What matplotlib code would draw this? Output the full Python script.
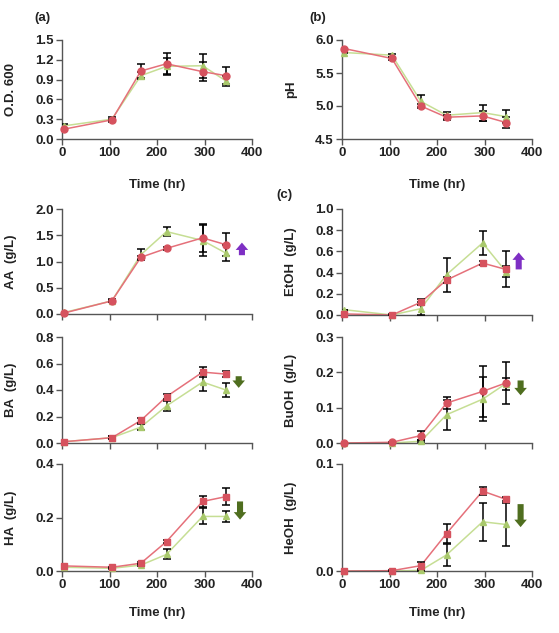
import matplotlib
matplotlib.use("Agg")
import matplotlib.pyplot as plt
from matplotlib.patches import FancyArrow

plt.rcParams['font.family'] = ['Liberation Sans', 'DejaVu Sans']
plt.rcParams['font.weight'] = 'bold'

# ---------------- data ----------------
time_hr = [5, 105, 166, 220, 296, 345]

od_red = [0.15, 0.29, 1.03, 1.14, 1.02, 0.96]
od_red_err = [0.02, 0.02, 0.11, 0.17, 0.14, 0.13]
od_green = [0.20, 0.30, 0.96, 1.10, 1.11, 0.88]
od_green_err = [0.03, 0.04, 0.05, 0.12, 0.18, 0.07]

ph_red = [5.87, 5.72, 5.00, 4.83, 4.85, 4.75]
ph_red_err = [0.01, 0.02, 0.03, 0.04, 0.07, 0.08]
ph_green = [5.81, 5.77, 5.07, 4.86, 4.90, 4.84]
ph_green_err = [0.01, 0.02, 0.09, 0.05, 0.12, 0.10]

aa_red = [0.02, 0.25, 1.08, 1.25, 1.45, 1.32]
aa_red_err = [0.01, 0.02, 0.03, 0.03, 0.27, 0.22]
aa_green = [0.03, 0.25, 1.13, 1.57, 1.40, 1.16]
aa_green_err = [0.01, 0.03, 0.10, 0.09, 0.30, 0.15]

etoh_red = [0.01, 0.00, 0.12, 0.33, 0.49, 0.43]
etoh_red_err = [0.00, 0.00, 0.03, 0.03, 0.02, 0.17]
etoh_green = [0.05, 0.00, 0.06, 0.38, 0.68, 0.41]
etoh_green_err = [0.00, 0.01, 0.06, 0.16, 0.11, 0.05]

ba_red = [0.01, 0.04, 0.17, 0.35, 0.535, 0.52]
ba_red_err = [0.00, 0.01, 0.02, 0.02, 0.035, 0.02]
ba_green = [0.01, 0.04, 0.12, 0.28, 0.46, 0.40]
ba_green_err = [0.00, 0.01, 0.02, 0.04, 0.07, 0.05]

buoh_red = [0.0, 0.002, 0.021, 0.113, 0.146, 0.170]
buoh_red_err = [0.0, 0.001, 0.012, 0.017, 0.073, 0.060]
buoh_green = [0.0, 0.0, 0.005, 0.080, 0.124, 0.168]
buoh_green_err = [0.0, 0.0, 0.003, 0.043, 0.062, 0.017]

ha_red = [0.019, 0.014, 0.029, 0.110, 0.260, 0.278]
ha_red_err = [0.002, 0.002, 0.003, 0.005, 0.020, 0.033]
ha_green = [0.014, 0.010, 0.022, 0.062, 0.204, 0.204]
ha_green_err = [0.002, 0.002, 0.003, 0.019, 0.030, 0.022]

heoh_red = [0.0, 0.0003, 0.005, 0.035, 0.0747, 0.067]
heoh_red_err = [0.0, 0.0002, 0.003, 0.009, 0.004, 0.002]
heoh_green = [0.0, 0.0, 0.0006, 0.015, 0.046, 0.0435]
heoh_green_err = [0.0, 0.0, 0.0005, 0.010, 0.018, 0.020]

x_ticks = [0, 100, 200, 300, 400]

# ---------------- style ----------------
RED = '#d6525e'
RED_LINE = '#e5707a'
GREEN = '#a9c96c'
GREEN_LINE = '#c6de94'
PURPLE = '#7e2fc4'
DKGREEN = '#4f6e1f'
SPINE = '#555555'
TXT = '#222222'

fig = plt.figure(figsize=(5.59, 6.33), dpi=100)
W, H = 559, 633


def add_ax(left_px, top_px, right_px, bottom_px):
    return fig.add_axes([left_px / W, 1 - bottom_px / H,
                         (right_px - left_px) / W, (bottom_px - top_px) / H])


def style(ax, ylim, yticks, yfmt, ylabel, show_xlabels, xlabel_y=None):
    ax.set_xlim(0, 400)
    ax.set_ylim(*ylim)
    ax.set_yticks(yticks)
    ax.set_yticklabels([yfmt.format(v) for v in yticks])
    ax.set_xticks(x_ticks)
    for s in ['top', 'right']:
        ax.spines[s].set_visible(False)
    for s in ['left', 'bottom']:
        ax.spines[s].set_color(SPINE)
        ax.spines[s].set_linewidth(1.0)
    ax.tick_params(axis='both', direction='out', length=4, width=1.0,
                   color=SPINE, labelsize=9.5, labelcolor=TXT, pad=2)
    if show_xlabels:
        ax.set_xlabel('Time (hr)', fontsize=9.5, fontweight='bold', color=TXT)
        ax.xaxis.set_label_coords(0.5, xlabel_y)
    else:
        ax.set_xticklabels([])
    ax.set_ylabel(ylabel, fontsize=9.5, fontweight='bold', color=TXT)
    ax.yaxis.set_label_coords(-0.237, 0.5)


def series(ax, y, yerr, color, lcolor, marker, ms):
    ax.plot(time_hr, y, color=lcolor, lw=1.1, zorder=2)
    ax.errorbar(time_hr, y, yerr=yerr, fmt='none', ecolor='black',
                elinewidth=1.1, capsize=2.8, capthick=1.1, zorder=3)
    ax.plot(time_hr, y, linestyle='none', marker=marker, ms=ms,
            color=color, mec=color, zorder=4, clip_on=False)


def arrow(ax, xc, y_tail, y_head, color):
    ax.add_patch(FancyArrow(xc, y_tail, 0, y_head - y_tail, width=0.032,
                            head_width=0.066, head_length=0.07,
                            length_includes_head=True, color=color,
                            transform=ax.transAxes, clip_on=False, lw=0))


L0, L1 = 62, 252
R0, R1 = 342, 532

# row 1
ax = add_ax(L0, 40, L1, 139)
series(ax, od_green, od_green_err, GREEN, GREEN_LINE, '^', 4.5)
series(ax, od_red, od_red_err, RED, RED_LINE, 'o', 5)
style(ax, (0, 1.5), [0, 0.3, 0.6, 0.9, 1.2, 1.5], '{:.1f}', 'O.D. 600', True, -0.40)

ax = add_ax(R0, 40, R1, 139)
series(ax, ph_green, ph_green_err, GREEN, GREEN_LINE, '^', 4.5)
series(ax, ph_red, ph_red_err, RED, RED_LINE, 'o', 5)
style(ax, (4.5, 6.0), [4.5, 5.0, 5.5, 6.0], '{:.1f}', 'pH', True, -0.40)

# row 2
ax = add_ax(L0, 209, L1, 314)
series(ax, aa_green, aa_green_err, GREEN, GREEN_LINE, '^', 4.5)
series(ax, aa_red, aa_red_err, RED, RED_LINE, 'o', 5)
style(ax, (0, 2.0), [0, 0.5, 1.0, 1.5, 2.0], '{:.1f}', 'AA  (g/L)', False)
arrow(ax, 0.947, 0.56, 0.68, PURPLE)

ax = add_ax(R0, 209, R1, 315)
series(ax, etoh_green, etoh_green_err, GREEN, GREEN_LINE, '^', 4.5)
series(ax, etoh_red, etoh_red_err, RED, RED_LINE, 's', 4.5)
style(ax, (0, 1.0), [0, 0.2, 0.4, 0.6, 0.8, 1.0], '{:.1f}', 'EtOH  (g/L)', False)
arrow(ax, 0.93, 0.43, 0.59, PURPLE)

# row 3
ax = add_ax(L0, 337, L1, 443)
series(ax, ba_green, ba_green_err, GREEN, GREEN_LINE, '^', 4.5)
series(ax, ba_red, ba_red_err, RED, RED_LINE, 's', 4.5)
style(ax, (0, 0.8), [0, 0.2, 0.4, 0.6, 0.8], '{:.1f}', 'BA  (g/L)', False)
arrow(ax, 0.93, 0.63, 0.52, DKGREEN)

ax = add_ax(R0, 337, R1, 443)
series(ax, buoh_green, buoh_green_err, GREEN, GREEN_LINE, '^', 4.5)
series(ax, buoh_red, buoh_red_err, RED, RED_LINE, 'o', 5)
style(ax, (0, 0.3), [0, 0.1, 0.2, 0.3], '{:.1f}', 'BuOH  (g/L)', False)
arrow(ax, 0.94, 0.59, 0.45, DKGREEN)

# row 4
ax = add_ax(L0, 464, L1, 571)
series(ax, ha_green, ha_green_err, GREEN, GREEN_LINE, '^', 4.5)
series(ax, ha_red, ha_red_err, RED, RED_LINE, 's', 4.5)
style(ax, (0, 0.4), [0, 0.2, 0.4], '{:.1f}', 'HA  (g/L)', True, -0.34)
arrow(ax, 0.937, 0.65, 0.48, DKGREEN)

ax = add_ax(R0, 464, R1, 571)
series(ax, heoh_green, heoh_green_err, GREEN, GREEN_LINE, '^', 4.5)
series(ax, heoh_red, heoh_red_err, RED, RED_LINE, 's', 4.5)
style(ax, (0, 0.1), [0, 0.1], '{:.1f}', 'HeOH  (g/L)', True, -0.34)
arrow(ax, 0.94, 0.625, 0.41, DKGREEN)

# panel letters
fig.text(42 / W, 1 - 18 / H, '(a)', fontsize=9.5, fontweight='bold', color=TXT, ha='center', va='center')
fig.text(318 / W, 1 - 18 / H, '(b)', fontsize=9.5, fontweight='bold', color=TXT, ha='center', va='center')
fig.text(284 / W, 1 - 195 / H, '(c)', fontsize=9.5, fontweight='bold', color=TXT, ha='center', va='center')

fig.savefig('out.png', dpi=100, facecolor='white')
